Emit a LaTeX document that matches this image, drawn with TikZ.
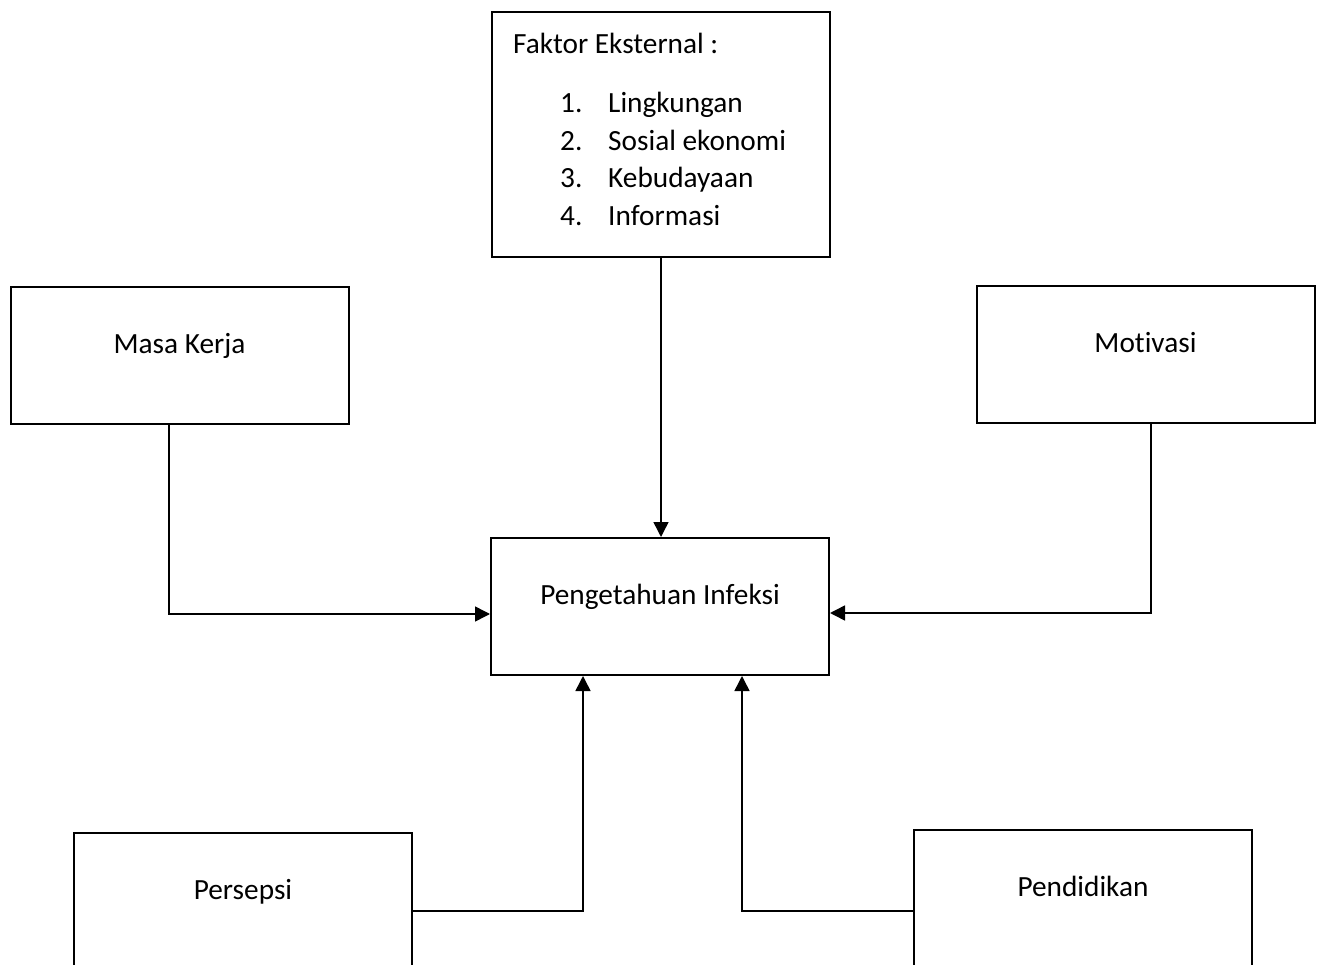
\documentclass[tikz,border=0pt]{standalone}
\usepackage{fontspec}
\setmainfont{Carlito}[Ligatures=NoCommon]
\usetikzlibrary{arrows.meta}

\begin{document}
\begin{tikzpicture}[x=1pt,y=-1pt,
  every node/.style={font=\fontsize{29.3}{35}\selectfont},
  box/.style={draw, line width=2pt, minimum width=338pt, minimum height=137pt,
    text height=10pt, text depth=14pt},
  item/.style={anchor=base west, inner sep=0pt},
  conn/.style={line width=1.5pt, -{Triangle[length=15pt,width=15pt]}}]
\useasboundingbox (0,0) rectangle (1323,965);
\clip (0,0) rectangle (1323,965);

\node[box, minimum height=245pt] (f_ext) at (661,134.5) {};
\node[item] (f_title) at (513,54) {Faktor Eksternal :};
\foreach \i/\t in {1/Lingkungan, 2/Sosial ekonomi, 3/Kebudayaan, 4/Informasi} {
  \node[item] (f_num\i) at (560,74.5+37.8*\i) {\i.};
  \node[item] (f_txt\i) at (608,74.5+37.8*\i) {\t};
}

\node[box] (masa)     at (179.5,355.5) {Masa Kerja};
\node[box] (motivasi) at (1145.5,354.5) {Motivasi};
\node[box] (infeksi)  at (660,606.5) {Pengetahuan Infeksi};
\node[box] (persepsi) at (243,901.5) {Persepsi};
\node[box] (didik)    at (1083,898.5) {Pendidikan};

\draw[conn] (f_ext.south) -- (f_ext.south |- infeksi.north);
\draw[conn] ([xshift=-10.5pt]masa.south) |- ([yshift=-7.5pt]infeksi.west);
\draw[conn] ([xshift=5.5pt]motivasi.south) |- ([yshift=-6.5pt]infeksi.east);
\draw[conn] ([yshift=-9.5pt]persepsi.east) -| ([xshift=-77pt]infeksi.south);
\draw[conn] ([yshift=-12.5pt]didik.west) -| ([xshift=82pt]infeksi.south);
\end{tikzpicture}
\end{document}
